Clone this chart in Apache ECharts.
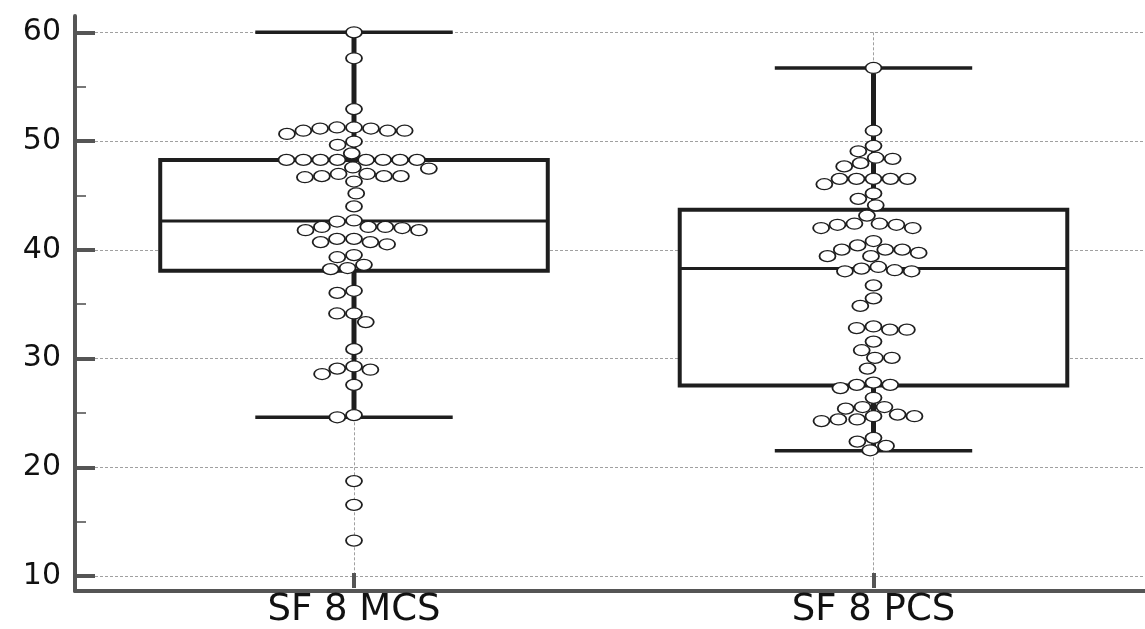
<!DOCTYPE html>
<html>
<head>
<meta charset="utf-8">
<script src="https://cdn.jsdelivr.net/npm/echarts@6/dist/echarts.min.js"></script>
<style>
  html, body { margin: 0; padding: 0; background: #fff; }
  #chart { width: 1145px; height: 629px; }
</style>
</head>
<body>
<div id="chart"></div>
<script>
// ---------------- data ----------------
const categories = ['SF 8 MCS', 'SF 8 PCS'];
const yTicks = [10, 20, 30, 40, 50, 60];

// box statistics: [lower whisker, Q1, median, Q3, upper whisker]
const mcsBox = [24.4, 37.95, 42.55, 48.2, 60.0];
const pcsBox = [21.3, 27.35, 38.15, 43.6, 56.7];

// individual observations
const mcsValues = [
  60.0, 57.6, 52.9,
  51.2, 51.2, 51.1, 51.1, 50.9, 50.9, 50.9, 50.6,
  49.9, 49.6,
  48.8,
  48.2, 48.2, 48.2, 48.2, 48.2, 48.2, 48.2, 48.2,
  47.5, 47.4,
  46.9, 46.9, 46.7, 46.7, 46.7, 46.6, 46.2,
  45.1, 43.9,
  42.6, 42.5, 42.0, 42.0, 42.0, 41.9, 41.7, 41.7,
  40.9, 40.9, 40.6, 40.6, 40.4,
  39.4, 39.2,
  38.5, 38.2, 38.1,
  36.1, 35.9,
  34.0, 34.0, 33.2,
  30.7,
  29.1, 28.9, 28.8, 28.4,
  27.4,
  24.6, 24.4,
  18.5, 16.3, 13.0
];
const pcsValues = [
  56.7,
  50.9,
  49.5, 49.0,
  48.4, 48.3,
  47.9, 47.6,
  46.45, 46.45, 46.45, 46.45, 46.45, 45.95,
  45.1, 44.6, 44.0,
  43.05,
  42.3, 42.3, 42.2, 42.2, 41.9, 41.9,
  40.7, 40.3, 39.9, 39.9, 39.9, 39.6, 39.3, 39.3,
  38.3, 38.15, 38.0, 37.9, 37.9,
  36.6, 35.4, 34.7,
  32.8, 32.65, 32.5, 32.5,
  31.4, 30.6, 29.9, 29.9, 28.9,
  27.6, 27.4, 27.4, 27.1,
  26.2, 25.35, 25.35, 25.2,
  24.65, 24.5, 24.5, 24.2, 24.2, 24.05,
  22.5, 22.15, 21.75, 21.35
];

// ---------------- styling ----------------
const LINE = '#1e1e1e';
const AXIS = '#555555';
const GRIDC = '#a0a0a0';
const FONT = 'DejaVu Sans';
const BOX_HALF = 0.373;   // half box width, in category spacing units
const CAP_HALF = 0.19;    // half whisker-cap width
const DOT_W = 17, DOT_H = 12;

const chart = echarts.init(document.getElementById('chart'), null, { renderer: 'canvas' });

const PLOT_TOP = 32.3, PLOT_BOTTOM = 53;

const option = {
  animation: false,
  backgroundColor: '#fff',
  grid: [
    { left: 75, right: 0, top: 16, bottom: 38 },                    // frame
    { left: 75, right: 0, top: PLOT_TOP, bottom: PLOT_BOTTOM },      // y ticks + labels
    { left: 95, right: 0, top: PLOT_TOP, bottom: PLOT_BOTTOM },      // horizontal grid lines
    { left: 354, right: 271.5, top: PLOT_TOP, bottom: PLOT_BOTTOM }  // data
  ],
  xAxis: [
    { gridIndex: 0, type: 'value', min: 0, max: 1,
      axisLine: { show: true, lineStyle: { color: AXIS, width: 4 } },
      axisTick: { show: false }, axisLabel: { show: false }, splitLine: { show: false } },
    { gridIndex: 1, type: 'value', min: 0, max: 1, show: false },
    { gridIndex: 2, type: 'value', min: 0, max: 1, show: false },
    { gridIndex: 3, type: 'value', min: 0, max: categories.length - 1, interval: 1,
      axisLine: { show: false },
      axisTick: { show: true, inside: false, length: 15, lineStyle: { color: AXIS, width: 4 } },
      axisLabel: { show: true, margin: 19, fontSize: 37, color: '#111', fontFamily: FONT,
        showMinLabel: true, showMaxLabel: true,
        formatter: v => categories[Math.round(v)] || '' },
      splitLine: { show: true, lineStyle: { color: GRIDC, width: 1, type: [3, 2] } } }
  ],
  yAxis: [
    { gridIndex: 0, type: 'value', min: 0, max: 1,
      axisLine: { show: true, lineStyle: { color: AXIS, width: 4 } },
      axisTick: { show: false }, axisLabel: { show: false }, splitLine: { show: false } },
    { gridIndex: 1, type: 'value', min: yTicks[0], max: yTicks[yTicks.length - 1],
      interval: yTicks[1] - yTicks[0],
      axisLine: { show: false },
      axisTick: { show: true, inside: true, length: 20, lineStyle: { color: AXIS, width: 4 } },
      minorTick: { show: true, splitNumber: 2, length: 11, lineStyle: { color: AXIS, width: 1.6 } },
      axisLabel: { show: true, margin: 14, fontSize: 30, color: '#111', fontFamily: FONT },
      splitLine: { show: false } },
    { gridIndex: 2, type: 'value', min: yTicks[0], max: yTicks[yTicks.length - 1],
      interval: yTicks[1] - yTicks[0],
      axisLine: { show: false }, axisTick: { show: false }, axisLabel: { show: false },
      splitLine: { show: true, lineStyle: { color: GRIDC, width: 1, type: [3, 2] } } },
    { gridIndex: 3, type: 'value', min: yTicks[0], max: yTicks[yTicks.length - 1], show: false }
  ],
  series: [
    {
      type: 'custom',
      xAxisIndex: 3, yAxisIndex: 3,
      z: 3,
      encode: { x: 0, y: [1, 2, 3, 4, 5] },
      data: [[0].concat(mcsBox), [1].concat(pcsBox)],
      renderItem: function (params, api) {
        const x = api.value(0);
        const lo = api.value(1), q1 = api.value(2), md = api.value(3), q3 = api.value(4), hi = api.value(5);
        const c = (dx, v) => api.coord([x + dx, v]);
        const line = (a, b, w) => ({
          type: 'line',
          shape: { x1: a[0], y1: a[1], x2: b[0], y2: b[1] },
          style: { stroke: LINE, lineWidth: w }
        });
        const tl = c(-BOX_HALF, q3), br = c(BOX_HALF, q1);
        return {
          type: 'group',
          children: [
            line(c(0, q3), c(0, hi), 5),
            line(c(0, q1), c(0, lo), 5),
            line(c(-CAP_HALF, hi), c(CAP_HALF, hi), 3.5),
            line(c(-CAP_HALF, lo), c(CAP_HALF, lo), 3.5),
            { type: 'rect',
              shape: { x: tl[0], y: tl[1], width: br[0] - tl[0], height: br[1] - tl[1] },
              style: { fill: '#fff', stroke: LINE, lineWidth: 4 } },
            line(c(-BOX_HALF, md), c(BOX_HALF, md), 3)
          ]
        };
      }
    }
  ]
};
chart.setOption(option);

// ---------------- beeswarm layout computed from the axis scales ----------------
const p0 = chart.convertToPixel({ xAxisIndex: 3, yAxisIndex: 3 }, [0, yTicks[0]]);
const p1 = chart.convertToPixel({ xAxisIndex: 3, yAxisIndex: 3 }, [1, yTicks[yTicks.length - 1]]);
const sx = p1[0] - p0[0];
const sy = (p0[1] - p1[1]) / (yTicks[yTicks.length - 1] - yTicks[0]);

function swarm(values) {
  const order = values.map((v, i) => i).sort((a, b) => values[b] - values[a]);
  const placed = [];
  const off = new Array(values.length).fill(0);
  for (const i of order) {
    const y = values[i] * sy;
    const forb = [];
    for (const q of placed) {
      const dy = Math.abs(q.y - y);
      if (dy < DOT_H) {
        const half = DOT_W * Math.sqrt(1 - (dy / DOT_H) * (dy / DOT_H));
        forb.push([q.x - half, q.x + half]);
      }
    }
    const cands = [0];
    forb.forEach(f => cands.push(f[0], f[1]));
    cands.sort((a, b) => (Math.abs(a) - Math.abs(b)) || (a - b));
    let best = 0;
    for (const cnd of cands) {
      if (forb.every(f => cnd <= f[0] + 1e-6 || cnd >= f[1] - 1e-6)) { best = cnd; break; }
    }
    placed.push({ x: best, y: y });
    off[i] = best / sx;
  }
  return off;
}

function points(values, idx) {
  const off = swarm(values);
  return values.map((v, i) => [idx + off[i], v]);
}

const dotStyle = { color: '#ffffff', borderColor: LINE, borderWidth: 1.5, opacity: 1 };
chart.setOption({
  series: [
    option.series[0],
    {
      type: 'scatter',
      name: categories[0],
      xAxisIndex: 3, yAxisIndex: 3,
      z: 5, clip: false,
      symbol: 'circle', symbolSize: [DOT_W - 1, DOT_H - 1],
      itemStyle: dotStyle,
      data: points(mcsValues, 0)
    },
    {
      type: 'scatter',
      name: categories[1],
      xAxisIndex: 3, yAxisIndex: 3,
      z: 5, clip: false,
      symbol: 'circle', symbolSize: [DOT_W - 1, DOT_H - 1],
      itemStyle: dotStyle,
      data: points(pcsValues, 1)
    }
  ]
});
</script>
</body>
</html>
